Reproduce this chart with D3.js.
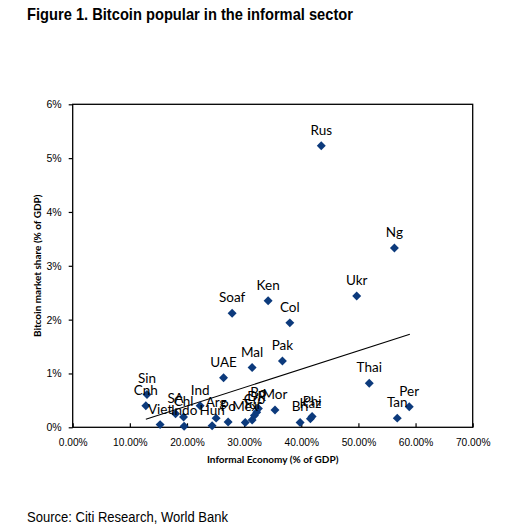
<!DOCTYPE html>
<html>
<head>
<meta charset="utf-8">
<script src="https://cdn.jsdelivr.net/npm/d3@7"></script>
<style>
  body { margin: 0; background: #fff; }
  svg { display: block; }
</style>
</head>
<body>
<svg id="chart"></svg>
<script>
// values (percent units)
const countries = ["Rus", "Ng", "Ukr", "Ken", "Col", "Soaf", "Pak", "Mal", "UAE", "Thai",
  "Per", "Tan", "Sin", "Cnh", "Viet", "SA", "Chl", "Indo", "Ind", "Hun", "Arg", "Po",
  "Mex", "Tur", "Cro", "DR", "Bo", "Mor", "Bri", "Kaz", "Phi"];
const informalEconomy = [43.5, 56.3, 49.7, 34.2, 38.0, 27.9, 36.7, 31.4, 26.4, 51.9,
  58.9, 56.8, 13.0, 12.8, 15.3, 18.0, 19.4, 19.5, 22.3, 24.4, 25.1, 27.2,
  30.2, 31.4, 31.8, 32.2, 32.5, 35.4, 39.8, 41.6, 41.9];
const bitcoinShare = [5.23, 3.33, 2.44, 2.35, 1.94, 2.12, 1.23, 1.11, 0.92, 0.82,
  0.38, 0.17, 0.61, 0.40, 0.05, 0.25, 0.19, 0.02, 0.40, 0.03, 0.17, 0.10,
  0.09, 0.135, 0.22, 0.28, 0.35, 0.32, 0.09, 0.16, 0.20];
// linear trend line end points as drawn
const trendX = [12.8, 59.0];
const trendY = [0.15, 1.73];
const xTicks = [0, 10, 20, 30, 40, 50, 60, 70];
const yTicks = [0, 1, 2, 3, 4, 5, 6];

const width = 525, height = 531;
const margin = { top: 104.3, right: 52.3, bottom: 103.7, left: 72.7 };

const svg = d3.select("#chart").attr("width", width).attr("height", height);

const x = d3.scaleLinear().domain([0, 70]).range([margin.left, width - margin.right]);
const y = d3.scaleLinear().domain([0, 6]).range([height - margin.bottom, margin.top]);

const data = countries.map((c, i) => ({ name: c, x: informalEconomy[i], y: bitcoinShare[i] }));

// title
svg.append("text")
  .attr("x", 27)
  .attr("y", 19.5)
  .attr("font-family", "Liberation Sans, Arial, sans-serif")
  .attr("font-weight", "bold")
  .attr("font-size", 16.5)
  .attr("textLength", 326)
  .attr("lengthAdjust", "spacingAndGlyphs")
  .attr("fill", "#000")
  .text("Figure 1. Bitcoin popular in the informal sector");

// axes
svg.append("g")
  .attr("transform", `translate(${margin.left},0)`)
  .call(d3.axisLeft(y).tickValues(yTicks).tickSizeInner(4).tickSizeOuter(0).tickPadding(7)
    .tickFormat((d) => d + "%"))
  .call((g) => g.select(".domain").remove())
  .call((g) => g.selectAll("line").attr("stroke", "#000").attr("stroke-width", 1.2))
  .selectAll("text")
  .attr("font-family", "Liberation Sans, Arial, sans-serif")
  .attr("font-size", 10.5)
  .attr("fill", "#000");

svg.append("g")
  .attr("transform", `translate(0,${height - margin.bottom})`)
  .call(d3.axisBottom(x).tickValues(xTicks).tickSizeInner(-4).tickSizeOuter(0).tickPadding(11)
    .tickFormat((d) => d.toFixed(2) + "%"))
  .call((g) => g.select(".domain").remove())
  .call((g) => g.selectAll("line").attr("stroke", "#000").attr("stroke-width", 1.2))
  .selectAll("text")
  .attr("font-family", "Liberation Sans, Arial, sans-serif")
  .attr("font-size", 10.2)
  .attr("fill", "#000");

// plot border
svg.append("rect")
  .attr("x", margin.left)
  .attr("y", margin.top)
  .attr("width", x(70) - x(0))
  .attr("height", y(0) - y(6))
  .attr("fill", "none")
  .attr("stroke", "#000")
  .attr("stroke-width", 1.3);

// axis titles
svg.append("text")
  .attr("transform", `translate(41,${(y(0) + y(6)) / 2}) rotate(-90)`)
  .attr("text-anchor", "middle")
  .attr("font-family", "Lato, Open Sans, sans-serif")
  .attr("font-weight", "bold")
  .attr("font-size", 10)
  .attr("fill", "#000")
  .text("Bitcoin market share (% of GDP)");

svg.append("text")
  .attr("x", (x(0) + x(70)) / 2)
  .attr("y", 462.7)
  .attr("text-anchor", "middle")
  .attr("font-family", "Lato, Open Sans, sans-serif")
  .attr("font-weight", "bold")
  .attr("font-size", 10)
  .attr("fill", "#000")
  .text("Informal Economy (% of GDP)");

// trend line
svg.append("path")
  .datum(trendX.map((v, i) => [v, trendY[i]]))
  .attr("d", d3.line().x((d) => x(d[0])).y((d) => y(d[1])))
  .attr("fill", "none")
  .attr("stroke", "#000")
  .attr("stroke-width", 1.1);

// markers
svg.append("g")
  .selectAll("path")
  .data(data)
  .join("path")
  .attr("d", d3.symbol(d3.symbolSquare, 40))
  .attr("transform", (d) => `translate(${x(d.x)},${y(d.y)}) rotate(45)`)
  .attr("fill", "#0c3a7c");

// data labels
svg.append("g")
  .selectAll("text")
  .data(data)
  .join("text")
  .attr("x", (d) => x(d.x))
  .attr("y", (d) => y(d.y) - 11)
  .attr("text-anchor", "middle")
  .attr("font-family", "Lato, Open Sans, sans-serif")
  .attr("font-size", 13.5)
  .attr("fill", "#000")
  .text((d) => d.name);

// source
svg.append("text")
  .attr("x", 27)
  .attr("y", 522)
  .attr("font-family", "Liberation Sans, Arial, sans-serif")
  .attr("font-size", 14)
  .attr("textLength", 201)
  .attr("lengthAdjust", "spacingAndGlyphs")
  .attr("fill", "#000")
  .text("Source: Citi Research, World Bank");
</script>
</body>
</html>
